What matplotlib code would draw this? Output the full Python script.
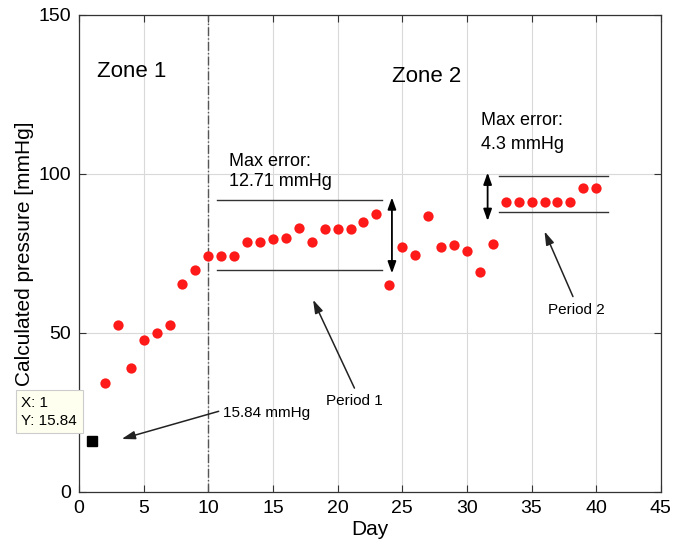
import numpy as np
import matplotlib.pyplot as plt

plt.rcParams['font.family'] = ['Liberation Sans', 'DejaVu Sans']

# ---- data ----
days = np.arange(2, 41)
pressure = [34.1, 52.3, 38.8, 47.7, 49.8, 52.3, 65.5, 69.8, 74.2,
            74.2, 74.2, 78.6, 78.6, 79.6, 79.9, 83.0, 78.6, 82.7, 82.7,
            82.7, 84.9, 87.3, 64.9, 77.0, 74.6, 86.6, 77.0, 77.7, 75.7,
            69.2, 78.0, 91.3, 91.3, 91.3, 91.3, 91.3, 91.3, 95.7, 95.7]
tip_day = 1
tip_value = 15.84

# period bands (x range, y level)
p1_x = [10.65, 23.4]
p1_hi = 91.7
p1_lo = 69.8
p2_x = [32.45, 40.9]
p2_hi = 99.3
p2_lo = 88.0

fig = plt.figure(figsize=(6.73, 5.51), dpi=100)
ax = fig.add_axes([0.1174, 0.1076, 0.8646, 0.8652])

ax.plot(days, pressure, 'o', color='#ff1a1a', markersize=7.4, markeredgewidth=0, zorder=3)
ax.plot([tip_day], [tip_value], 's', color='black', markersize=7, zorder=3)

# zone separator
ax.axvline(10, color='#555555', linestyle='-.', linewidth=1)

# horizontal bounds
ax.plot(p1_x, [p1_hi, p1_hi], color='#333333', linewidth=1)
ax.plot(p1_x, [p1_lo, p1_lo], color='#333333', linewidth=1)
ax.plot(p2_x, [p2_hi, p2_hi], color='#333333', linewidth=1)
ax.plot(p2_x, [p2_lo, p2_lo], color='#333333', linewidth=1)

# double arrows
dbl = dict(arrowstyle='<|-|>,head_length=0.7,head_width=0.25', color='black',
           linewidth=1.3, shrinkA=0, shrinkB=0)
ax.annotate('', xy=(24.2, 92.6), xytext=(24.2, 68.7), arrowprops=dbl)
ax.annotate('', xy=(31.6, 100.4), xytext=(31.6, 85.2), arrowprops=dbl)

# single arrows with labels
sgl = dict(arrowstyle='-|>,head_length=0.8,head_width=0.25', color='#222222',
           linewidth=1.1, shrinkA=0, shrinkB=0)
ax.annotate('', xy=(18.1, 60.4), xytext=(21.3, 32.6), arrowprops=sgl)
ax.text(21.3, 28.6, 'Period 1', fontsize=11, ha='center', va='center')
ax.annotate('', xy=(36.0, 81.9), xytext=(38.2, 61.4), arrowprops=sgl)
ax.text(38.5, 57.3, 'Period 2', fontsize=11, ha='center', va='center')
ax.annotate('', xy=(3.3, 16.6), xytext=(10.8, 25.3), arrowprops=sgl)
ax.text(11.1, 24.7, '15.84 mmHg', fontsize=11, ha='left', va='center')

# zone / error labels
ax.text(1.37, 132.3, 'Zone 1', fontsize=16, ha='left', va='center')
ax.text(24.2, 130.8, 'Zone 2', fontsize=16, ha='left', va='center')
ax.text(11.6, 104, 'Max error:', fontsize=13, ha='left', va='center')
ax.text(11.6, 97.7, '12.71 mmHg', fontsize=13, ha='left', va='center')
ax.text(31.1, 116.9, 'Max error:', fontsize=13, ha='left', va='center')
ax.text(31.1, 109.2, '4.3 mmHg', fontsize=13, ha='left', va='center')

# data tip box
ax.text(-4.45, 25.2, 'X: 1\nY: 15.84', fontsize=11, ha='left', va='center',
        linespacing=1.35, clip_on=False, zorder=5,
        bbox=dict(boxstyle='square,pad=0.35', facecolor='#fffff0',
                  edgecolor='#cccccc', linewidth=0.8))

ax.set_xlim(0, 45)
ax.set_ylim(0, 150)
ax.set_xticks(np.arange(0, 46, 5))
ax.set_yticks([0, 50, 100, 150])
ax.grid(True, color='#d9d9d9', linewidth=0.8)
ax.set_axisbelow(True)
ax.tick_params(direction='in', top=True, right=True, labelsize=14,
               color='#333333', length=5, pad=6)
for sp in ax.spines.values():
    sp.set_color('#333333')
    sp.set_linewidth(0.9)
ax.set_xlabel('Day', fontsize=15, labelpad=2)
ax.set_ylabel('Calculated pressure [mmHg]', fontsize=15, labelpad=3)

fig.savefig('out.png', dpi=100)
